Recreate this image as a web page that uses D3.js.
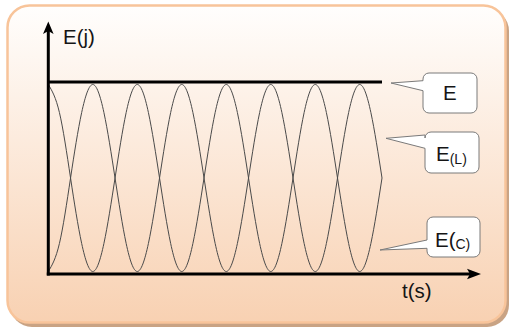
<!DOCTYPE html>
<html>
<head>
<meta charset="utf-8">
<script src="https://cdn.jsdelivr.net/npm/d3@7"></script>
<style>
  html, body { margin: 0; padding: 0; background: #ffffff; }
  svg { display: block; }
  text { font-family: "Liberation Sans", Arial, sans-serif; fill: #151515; }
</style>
</head>
<body>
<div id="chart"></div>
<script>
// time samples (quarter steps of a half period)
var tValues = [0, 0.25, 0.5, 0.75, 1, 1.25, 1.5, 1.75, 2, 2.25, 2.5, 2.75, 3, 3.25, 3.5, 3.75,
               4, 4.25, 4.5, 4.75, 5, 5.25, 5.5, 5.75, 6, 6.25, 6.5, 6.75, 7, 7.25, 7.5];
// energy in the coil (starts at max)
var eL = [1, 0.85, 0.5, 0.15, 0, 0.15, 0.5, 0.85, 1, 0.85, 0.5, 0.15, 0, 0.15, 0.5, 0.85,
          1, 0.85, 0.5, 0.15, 0, 0.15, 0.5, 0.85, 1, 0.85, 0.5, 0.15, 0, 0.15, 0.5];
// energy in the capacitor (starts at zero)
var eC = [0, 0.15, 0.5, 0.85, 1, 0.85, 0.5, 0.15, 0, 0.15, 0.5, 0.85, 1, 0.85, 0.5, 0.15,
          0, 0.15, 0.5, 0.85, 1, 0.85, 0.5, 0.15, 0, 0.15, 0.5, 0.85, 1, 0.85, 0.5];
// total energy, constant
var eTotalT = [0, 7.5];
var eTotal = [1.013, 1.013];

var axisLabels = ['E(j)', 't(s)'];
var calloutMain = ['E', 'E', 'E('];
var calloutSub = ['', '(L)', 'C)'];

var width = 511, height = 334;

var svg = d3.select('#chart').append('svg')
    .attr('width', width)
    .attr('height', height);

// background gradient for the card
var defs = svg.append('defs');
var grad = defs.append('linearGradient')
    .attr('id', 'cardGrad')
    .attr('x1', 0).attr('y1', 0).attr('x2', 0).attr('y2', 1);
grad.append('stop').attr('offset', '0%').attr('stop-color', '#fffefd');
grad.append('stop').attr('offset', '100%').attr('stop-color', '#f8d1b2');

// card shadow + card
svg.append('rect')
    .attr('x', 10).attr('y', 9)
    .attr('width', 499).attr('height', 318)
    .attr('rx', 22).attr('ry', 22)
    .attr('fill', '#c9a384');
svg.append('rect')
    .attr('x', 7.5).attr('y', 5.5)
    .attr('width', 498).attr('height', 317)
    .attr('rx', 22).attr('ry', 22)
    .attr('fill', 'url(#cardGrad)')
    .attr('stroke', '#f8c49a')
    .attr('stroke-width', 2.5);

// scales
var x = d3.scaleLinear().domain([0, 7.5]).range([48.3, 382]);
var y = d3.scaleLinear().domain([0, 1]).range([271.5, 84.5]);

// energy curves
var line = d3.line()
    .x(function (d) { return x(d[0]); })
    .y(function (d) { return y(d[1]); })
    .curve(d3.curveNatural);

[eL, eC].forEach(function (series) {
    svg.append('path')
        .datum(tValues.map(function (t, i) { return [t, series[i]]; }))
        .attr('fill', 'none')
        .attr('stroke', '#4a4a4a')
        .attr('stroke-width', 1)
        .attr('d', line);
});

// total energy line
svg.append('path')
    .datum(eTotalT.map(function (t, i) { return [t, eTotal[i]]; }))
    .attr('fill', 'none')
    .attr('stroke', '#000')
    .attr('stroke-width', 3)
    .attr('d', d3.line().x(function (d) { return x(d[0]); }).y(function (d) { return y(d[1]); }));

// axes with arrows
var x0 = x(0), yBase = 274;
svg.append('line')
    .attr('x1', x0).attr('y1', yBase + 1.5)
    .attr('x2', x0).attr('y2', 30)
    .attr('stroke', '#000').attr('stroke-width', 3);
svg.append('line')
    .attr('x1', x0 - 1.5).attr('y1', yBase)
    .attr('x2', 472).attr('y2', yBase)
    .attr('stroke', '#000').attr('stroke-width', 3);
svg.append('path')
    .attr('d', 'M' + x0 + ',21.5 L' + (x0 + 5.3) + ',34 L' + x0 + ',31 L' + (x0 - 5.3) + ',34 Z')
    .attr('fill', '#000');
svg.append('path')
    .attr('d', 'M481,' + yBase + ' L467,' + (yBase - 5.3) + ' L470,' + yBase + ' L467,' + (yBase + 5.3) + ' Z')
    .attr('fill', '#000');

svg.append('text')
    .attr('x', 63).attr('y', 44)
    .attr('font-size', 20.5)
    .text(axisLabels[0]);
svg.append('text')
    .attr('x', 402).attr('y', 298)
    .attr('font-size', 20.5)
    .text(axisLabels[1]);

// callout boxes
var callouts = [
    { x: 423, y: 73, w: 54, h: 40, tip: [391, 83], b0: 80.7, b1: 90.7, tx: 443, ty: 100 },
    { x: 425, y: 132, w: 54, h: 41, tip: [386, 138.3], b0: 135, b1: 148.3, tx: 436, ty: 160.5 },
    { x: 427, y: 217, w: 53, h: 40, tip: [380, 250], b0: 240, b1: 248.3, tx: 435, ty: 247 }
];

callouts.forEach(function (c, i) {
    var r = 6;
    var p = d3.path();
    p.moveTo(c.x, c.b0);
    p.lineTo(c.tip[0], c.tip[1]);
    p.lineTo(c.x, c.b1);
    p.lineTo(c.x, c.y + c.h - r);
    p.arcTo(c.x, c.y + c.h, c.x + r, c.y + c.h, r);
    p.lineTo(c.x + c.w - r, c.y + c.h);
    p.arcTo(c.x + c.w, c.y + c.h, c.x + c.w, c.y + c.h - r, r);
    p.lineTo(c.x + c.w, c.y + r);
    p.arcTo(c.x + c.w, c.y, c.x + c.w - r, c.y, r);
    p.lineTo(c.x + r, c.y);
    p.arcTo(c.x, c.y, c.x, c.y + r, r);
    p.closePath();
    svg.append('path')
        .attr('d', p.toString())
        .attr('fill', '#ffffff')
        .attr('stroke', '#7a7a7a')
        .attr('stroke-width', 1);

    var t = svg.append('text')
        .attr('x', c.tx).attr('y', c.ty)
        .attr('font-size', 20.5);
    t.append('tspan').text(calloutMain[i]);
    if (calloutSub[i]) {
        t.append('tspan')
            .attr('font-size', 14)
            .attr('dy', i === 1 ? 3 : 2)
            .text(calloutSub[i]);
    }
});
</script>
</body>
</html>
